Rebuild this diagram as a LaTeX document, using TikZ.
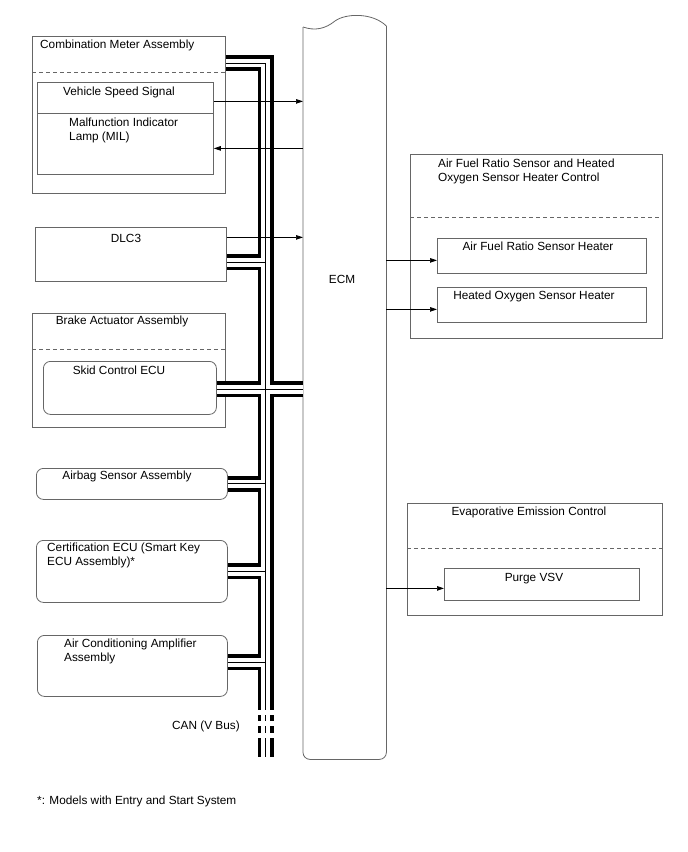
\documentclass[tikz,border=0pt]{standalone}
\usepackage{fontspec}
\setmainfont{Liberation Sans}
\usetikzlibrary{arrows.meta}
\begin{document}
\begin{tikzpicture}[x=1pt,y=-1pt,
  box/.style={draw=black!60, line width=0.8pt, inner sep=0pt, anchor=north west},
  rbox/.style={box, rounded corners=7pt},
  txt/.style={inner sep=0pt, font=\fontsize{11.8}{14.5}\selectfont},
  dashline/.style={draw=black!60, line width=0.8pt, dash pattern=on 4pt off 3pt},
  outline/.style={draw=black!60, line width=0.8pt},
  arr/.style={line width=0.7pt, -{Triangle[length=7pt,width=4.5pt]}},
  bus/.style={line width=16pt, postaction={draw, white, line width=8.6pt}, postaction={draw, black, line width=1pt}}
]
\useasboundingbox[fill=white] (0,0) rectangle (688,852);

% boxes
\node[box, minimum width=193pt, minimum height=157pt] (cm) at (32,36) {};
\node[box, minimum width=176pt, minimum height=31pt] (vss) at (37,82) {};
\node[box, minimum width=176pt, minimum height=61pt] (mil) at (37,113) {};
\node[box, minimum width=191pt, minimum height=54pt] (dlc) at (35,227) {};
\node[box, minimum width=193pt, minimum height=114pt] (brake) at (32,313) {};
\node[rbox, minimum width=173pt, minimum height=53pt] (skid) at (43,361) {};
\node[rbox, minimum width=191pt, minimum height=31pt] (airbag) at (36,468) {};
\node[rbox, minimum width=191pt, minimum height=62pt] (cert) at (36,540) {};
\node[rbox, minimum width=190pt, minimum height=61pt] (ac) at (37,635) {};
\node[box, minimum width=252pt, minimum height=184pt] (afr) at (410,154) {};
\node[box, minimum width=209pt, minimum height=35pt] (afrh) at (437,238) {};
\node[box, minimum width=209pt, minimum height=35pt] (hosh) at (437,287) {};
\node[box, minimum width=255pt, minimum height=112pt] (evap) at (407,503) {};
\node[box, minimum width=195pt, minimum height=32pt] (purge) at (444,568) {};
\node[inner sep=0pt, minimum width=83pt, minimum height=733pt, anchor=north west] (ecm) at (303,26) {};

% ECM outline
\draw[outline, rounded corners=7pt] (ecm.north east) -- (ecm.south east) -- (ecm.south west) -- (303,27);
\draw[outline] (303,27) .. controls (315,31) and (325,29) .. (335,21) .. controls (345,13.5) and (372,12) .. (ecm.north east);

% dashed separators
\draw[dashline] ([yshift=-36pt]cm.north west) -- ([yshift=-36pt]cm.north east);
\draw[dashline] ([yshift=-36pt]brake.north west) -- ([yshift=-36pt]brake.north east);
\draw[dashline] ([yshift=-63pt]afr.north west) -- ([yshift=-63pt]afr.north east);
\draw[dashline] ([yshift=-45pt]evap.north west) -- ([yshift=-45pt]evap.north east);

% texts
\node[txt, anchor=base west] (tcm) at (40,48) {Combination Meter Assembly};
\node[txt, anchor=base west] (tvss) at (63,95) {Vehicle Speed Signal};
\node[txt, anchor=north west, align=left] (tmil) at (69,117.4) {Malfunction Indicator\\Lamp (MIL)};
\node[txt, anchor=base] (tdlc) at (126,242) {DLC3};
\node[txt, anchor=base] (tbrake) at (122,324) {Brake Actuator Assembly};
\node[txt, anchor=base] (tskid) at (119,374) {Skid Control ECU};
\node[txt, anchor=base] (tairbag) at (127,479) {Airbag Sensor Assembly};
\node[txt, anchor=north west, align=left] (tcert) at (47,542.4) {Certification ECU (Smart Key\\ECU Assembly)*};
\node[txt, anchor=north west, align=left] (tac) at (64,638.4) {Air Conditioning Amplifier\\Assembly};
\node[txt, anchor=base west] (tcan) at (172,729) {CAN (V Bus)};
\node[txt, anchor=base] (tecm) at (342,283) {ECM};
\node[txt, anchor=north west, align=left] (tafr) at (438,158.4) {Air Fuel Ratio Sensor and Heated\\Oxygen Sensor Heater Control};
\node[txt, anchor=base] (tafrh) at (538,250) {Air Fuel Ratio Sensor Heater};
\node[txt, anchor=base] (thosh) at (534,299) {Heated Oxygen Sensor Heater};
\node[txt, anchor=base] (tevap) at (529,515) {Evaporative Emission Control};
\node[txt, anchor=base] (tpurge) at (534,581) {Purge VSV};
\node[txt, anchor=base west] (tnote) at (37,804) {*: Models with Entry and Start System};

% CAN bus
\coordinate (btop) at ([yshift=-27pt]cm.north east);
\coordinate (bend) at (265.5,710);
\draw[bus] (btop) -- (btop -| bend) -- (bend)
  ([yshift=-8pt]dlc.east) -- ([yshift=-8pt]dlc.east -| bend)
  ([yshift=-1.5pt]skid.east) -- ([yshift=-1.5pt]skid.east -| ecm.west)
  (airbag.east) -- (airbag.east -| bend)
  (cert.east) -- (cert.east -| bend)
  ([yshift=3.5pt]ac.east) -- ([yshift=3.5pt]ac.east -| bend);
\draw[bus] ([yshift=-5pt]bend) -- ([yshift=-11pt]bend)
  ([yshift=-16pt]bend) -- ([yshift=-23pt]bend)
  ([yshift=-28pt]bend) -- ([yshift=-47pt]bend);

% signal arrows
\draw[arr] ([yshift=-3.5pt]vss.east) -- ([yshift=-3.5pt]vss.east -| ecm.west);
\draw[arr] ([yshift=-4.5pt]mil.east -| ecm.west) -- ([yshift=-4.5pt]mil.east);
\draw[arr] ([yshift=17pt]dlc.east) -- ([yshift=17pt]dlc.east -| ecm.west);
\draw[arr] ([yshift=-4.5pt]afrh.west -| ecm.east) -- ([yshift=-4.5pt]afrh.west);
\draw[arr] ([yshift=-4.5pt]hosh.west -| ecm.east) -- ([yshift=-4.5pt]hosh.west);
\draw[arr] ([yshift=-4pt]purge.west -| ecm.east) -- ([yshift=-4pt]purge.west);
\end{tikzpicture}
\end{document}
